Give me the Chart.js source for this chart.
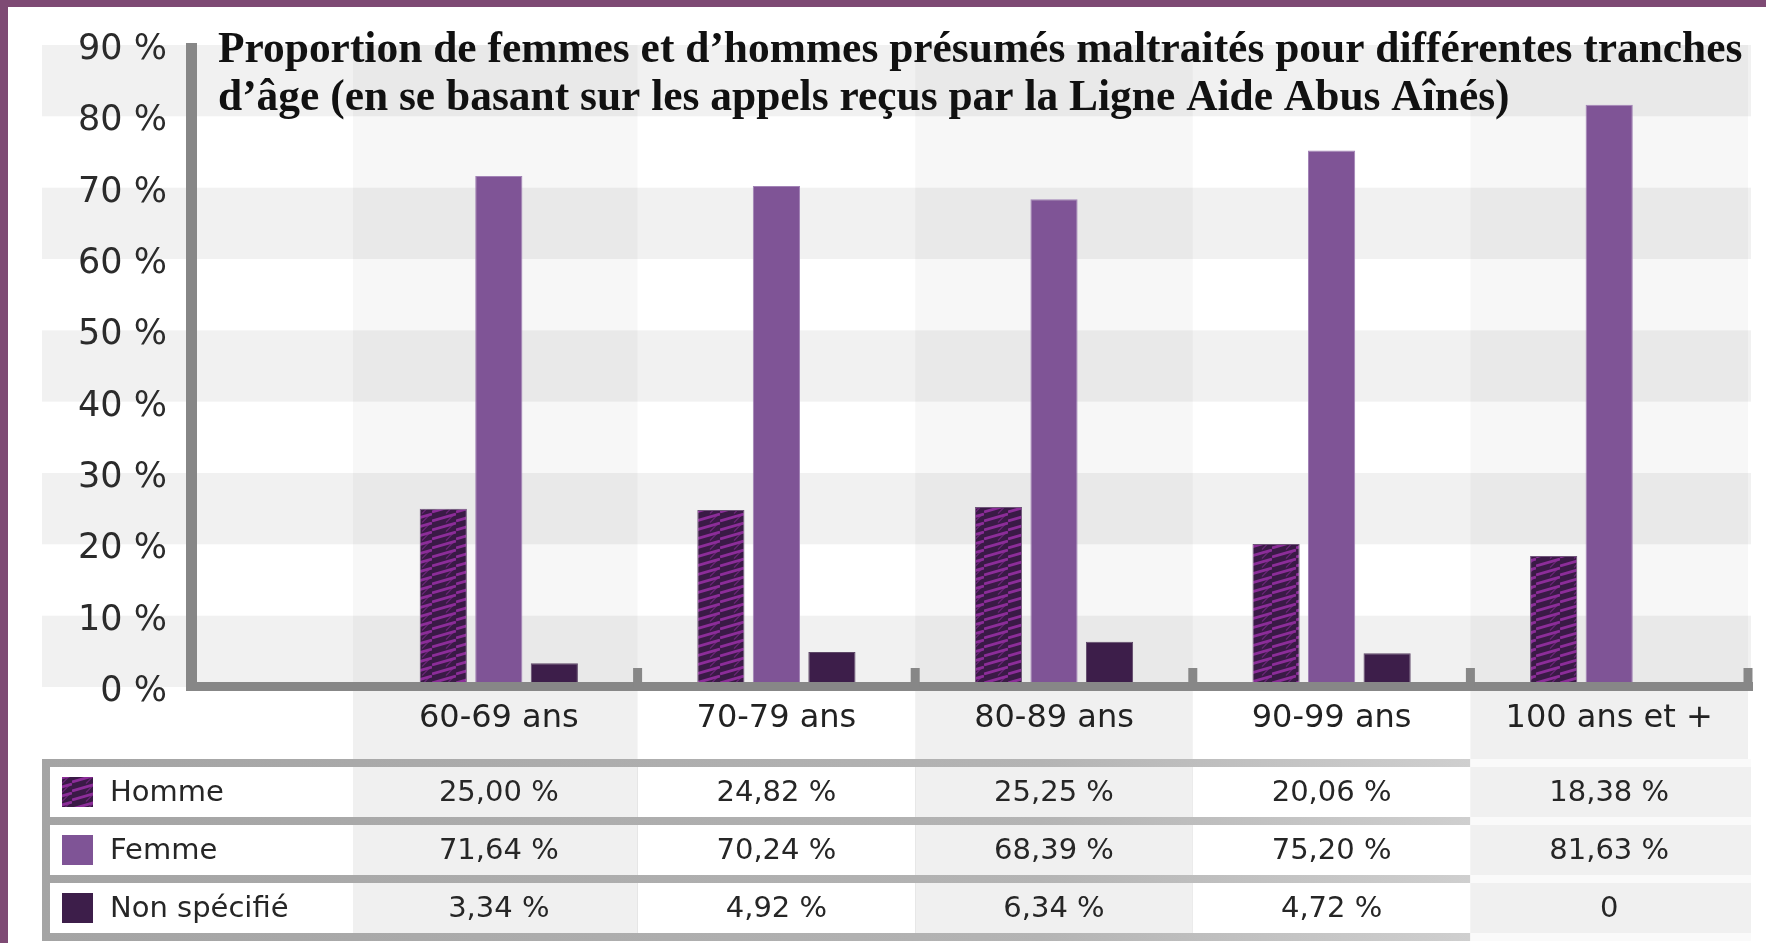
<!DOCTYPE html>
<html>
<head>
<meta charset="utf-8">
<script src="https://cdn.jsdelivr.net/npm/chart.js@4/dist/chart.umd.min.js"></script>
<style>
  html, body { margin: 0; padding: 0; background: #ffffff; }
  canvas { display: block; }
</style>
</head>
<body>
<canvas id="c" width="1766" height="943"></canvas>
<script>
// ---------- DATA ----------
const categories = ['60-69 ans', '70-79 ans', '80-89 ans', '90-99 ans', '100 ans et +'];
const seriesNames = ['Homme', 'Femme', 'Non spécifié'];
const hommeValues = [25.00, 24.82, 25.25, 20.06, 18.38];
const femmeValues = [71.64, 70.24, 68.39, 75.20, 81.63];
const nonSpecifieValues = [3.34, 4.92, 6.34, 4.72, 0];
const yTickValues = [0, 10, 20, 30, 40, 50, 60, 70, 80, 90];
const yTickLabels = ['0 %', '10 %', '20 %', '30 %', '40 %', '50 %', '60 %', '70 %', '80 %', '90 %'];
const titleLines = [
  'Proportion de femmes et d’hommes présumés maltraités pour différentes tranches',
  'd’âge (en se basant sur les appels reçus par la Ligne Aide Abus Aînés)'
];

// ---------- STYLE ----------
const FONT = '"DejaVu Sans", "Open Sans", sans-serif';
const TITLE_FONT = '"Liberation Serif", "DejaVu Serif", serif';
const COL_FEMME = '#7f5496';
const COL_DARK = '#3d1e4a';
const COL_AXIS = '#878787';
const COL_BORDER = '#7e4a74';
const PLOT_LEFT = 360;

const canvas = document.getElementById('c');
const ctx = canvas.getContext('2d');

function makeHatch() {
  const t = document.createElement('canvas');
  t.width = 24; t.height = 9;
  const g = t.getContext('2d');
  g.fillStyle = '#3a1a46';
  g.fillRect(0, 0, 24, 9);
  g.strokeStyle = '#8c2d99';
  g.lineWidth = 2.8;
  for (const dy of [-9, 0, 9]) {
    g.beginPath(); g.moveTo(0, 8 + dy); g.lineTo(24, 1 + dy); g.stroke();
  }
  g.strokeStyle = 'rgba(140,45,153,0.6)';
  g.lineWidth = 1.2;
  for (const dy of [-9, 0, 9]) {
    g.beginPath(); g.moveTo(22, 1.5 + dy); g.lineTo(14, 9.5 + dy); g.stroke();
  }
  return ctx.createPattern(t, 'repeat');
}
const hatch = makeHatch();
const seriesColors = [hatch, COL_FEMME, COL_DARK];
const seriesData = [hommeValues, femmeValues, nonSpecifieValues];

function fmt(v) {
  return v === 0 ? '0' : v.toFixed(2).replace('.', ',') + ' %';
}

function colGeom(chart, i) {
  const a = chart.chartArea;
  const w = (a.right - a.left) / categories.length;
  const c = chart.scales.x.getPixelForValue(i);
  return { left: c - w / 2, right: c + w / 2, center: c, width: w };
}

const backgroundPlugin = {
  id: 'bg',
  beforeDraw(chart) {
    const { ctx, chartArea: a, scales: { y } } = chart;
    const W = chart.width, H = chart.height;
    ctx.save();
    ctx.fillStyle = '#ffffff';
    ctx.fillRect(0, 0, W, H);

    const tableTop = a.bottom + 72;
    categories.forEach((c, i) => {
      if (i % 2 === 0) {
        const g = colGeom(chart, i);
        const ext = i === 0 ? 7 : 0;
        ctx.fillStyle = 'rgba(0,0,0,0.03)';
        ctx.fillRect(g.left - ext, a.top, g.width + ext, a.bottom - a.top);
        ctx.fillStyle = '#f0f0f0';
        ctx.fillRect(g.left - ext, a.bottom, g.width + ext, tableTop - a.bottom);
      }
    });
    ctx.fillStyle = 'rgba(0,0,0,0.055)';
    for (let k = 0; k < yTickValues.length - 1; k += 2) {
      const yb = y.getPixelForValue(yTickValues[k]);
      const yt = y.getPixelForValue(yTickValues[k + 1]);
      ctx.fillRect(42, yt, a.right + 3 - 42, yb - yt);
    }

    // ---- table ----
    const fb = 8, rowH = 50;
    const last = colGeom(chart, categories.length - 1);
    const frameLeft = 42;
    const frameRight = last.left;
    const tableH = 3 * rowH + 4 * fb;
    const grad = ctx.createLinearGradient(frameLeft, 0, frameRight, 0);
    grad.addColorStop(0, '#a4a4a4');
    grad.addColorStop(0.7, '#b4b4b4');
    grad.addColorStop(1, '#cfcfcf');
    ctx.fillStyle = grad;
    ctx.fillRect(frameLeft, tableTop, frameRight - frameLeft, tableH);
    ctx.fillStyle = '#fafafa';
    ctx.fillRect(last.left, tableTop, last.width + 3, tableH);

    seriesNames.forEach((name, r) => {
      const top = tableTop + fb + r * (rowH + fb);
      ctx.fillStyle = '#ffffff';
      ctx.fillRect(frameLeft + fb, top, a.left - (frameLeft + fb), rowH);
      categories.forEach((c, i) => {
        const g = colGeom(chart, i);
        const ext = i === 0 ? 7 : 0;
        ctx.fillStyle = (i % 2 === 0) ? '#f0f0f0' : '#ffffff';
        ctx.fillRect(g.left - ext, top, g.width + ext + (i === categories.length - 1 ? 3 : 0), rowH);
      });
      ctx.fillStyle = seriesColors[r];
      ctx.fillRect(62, top + rowH / 2 - 15, 31, 30);
      const cy = top + rowH / 2 + 1;
      ctx.fillStyle = '#262626';
      ctx.font = '29px ' + FONT;
      ctx.textBaseline = 'middle';
      ctx.textAlign = 'left';
      ctx.fillText(name, 110, cy);
      ctx.textAlign = 'center';
      seriesData[r].forEach((v, i) => {
        ctx.fillText(fmt(v), colGeom(chart, i).center, cy);
      });
    });

    ctx.fillStyle = COL_BORDER;
    ctx.fillRect(0, 0, 8, H);
    ctx.fillRect(0, 0, W, 7);
    ctx.restore();
  }
};

const axisPlugin = {
  id: 'axes',
  afterDatasetsDraw(chart) {
    const { ctx, chartArea: a } = chart;
    ctx.save();
    ctx.fillStyle = COL_AXIS;
    const axisX = a.left - 174;
    ctx.fillRect(axisX, a.top - 2, 11, a.bottom + 4 - (a.top - 2));
    ctx.fillRect(axisX, a.bottom - 5, a.right + 5 - axisX, 9);
    categories.forEach((c, i) => {
      const g = colGeom(chart, i);
      ctx.fillRect(g.right - 4.5, a.bottom - 19, 9, 19);
    });
    ctx.restore();
  },
  afterDraw(chart) {
    const { ctx, chartArea: a } = chart;
    ctx.save();
    let size = 44;
    ctx.font = 'bold ' + size + 'px ' + TITLE_FONT;
    const w = ctx.measureText(titleLines[0]).width;
    size = size * 1525 / w;
    ctx.font = 'bold ' + size.toFixed(2) + 'px ' + TITLE_FONT;
    ctx.fillStyle = '#111111';
    ctx.textAlign = 'left';
    ctx.textBaseline = 'alphabetic';
    ctx.fillText(titleLines[0], 218, a.top + 17);
    ctx.fillText(titleLines[1], 218, a.top + 65);
    ctx.restore();
  }
};

new Chart(ctx, {
  type: 'bar',
  data: {
    labels: categories,
    datasets: seriesNames.map((name, r) => ({
      label: name,
      data: seriesData[r],
      backgroundColor: seriesColors[r],
      borderColor: ['#6f5579', '#a283b6', '#5e4868'][r],
      borderWidth: (c) => (c.raw === 0 ? 0 : 1),
      categoryPercentage: 0.6,
      barPercentage: 0.85
    }))
  },
  options: {
    responsive: false,
    animation: false,
    devicePixelRatio: 1,
    layout: { padding: { top: 45, right: 18, left: 0, bottom: 0 } },
    plugins: {
      legend: { display: false },
      tooltip: { enabled: false },
      title: { display: false }
    },
    scales: {
      x: {
        grid: { display: false, drawTicks: false },
        border: { display: false },
        ticks: { font: { family: FONT, size: 32 }, color: '#222222', padding: 12, maxRotation: 0 },
        afterFit: (s) => { s.height = 256; s.paddingLeft = 0; s.paddingRight = 0; }
      },
      y: {
        min: 0,
        max: 90,
        grid: { display: false, drawTicks: false },
        border: { display: false },
        ticks: {
          stepSize: 10,
          font: { family: FONT, size: 35 },
          color: '#2b2b2b',
          padding: PLOT_LEFT - 167,
          labelOffset: 5,
          callback: (v) => yTickLabels[yTickValues.indexOf(v)]
        },
        afterFit: (s) => { s.width = PLOT_LEFT; s.paddingTop = 20; s.paddingBottom = 20; }
      }
    }
  },
  plugins: [backgroundPlugin, axisPlugin]
});
</script>
</body>
</html>
